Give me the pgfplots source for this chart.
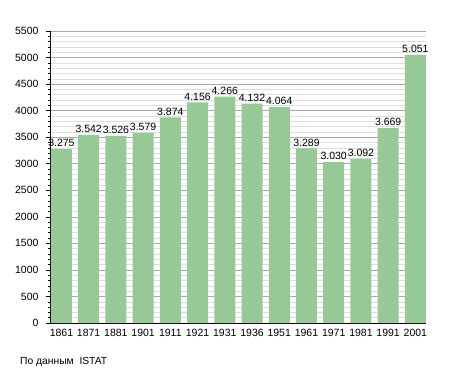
\documentclass[border=0pt]{standalone}
\usepackage{fontspec}
\setmainfont{Liberation Sans}
\usepackage{pgfplots}
\pgfplotsset{compat=1.18}
\definecolor{bargreen}{RGB}{150,201,150}
\definecolor{majgrid}{RGB}{170,170,170}
\definecolor{mingrid}{RGB}{222,222,222}
\begin{document}
\begin{tikzpicture}
\path (0,0) rectangle (455pt,373pt);
\begin{axis}[
  at={(50pt,50pt)}, anchor=south west,
  scale only axis, width=376pt, height=292pt,
  xmin=-0.42, xmax=13.39, ymin=0, ymax=5500,
  axis x line*=bottom, axis y line*=left,
  axis line style={black, line width=0.8pt, -},
  xtick={0,...,13},
  xticklabels={1861,1871,1881,1901,1911,1921,1931,1936,1951,1961,1971,1981,1991,2001},
  x tick style={draw=none},
  ytick={0,500,...,5500},
  minor y tick num=4,
  tick align=outside,
  major tick length=4pt, minor tick length=2pt,
  y tick style={black, line width=0.5pt},
  ymajorgrids, yminorgrids,
  major grid style={majgrid, line width=0.6pt},
  minor grid style={mingrid, line width=0.5pt},
  /pgf/number format/assume math mode=true,
  yticklabel={\pgfmathprintnumber[fixed,1000 sep={}]{\tick}},
  yticklabel style={font=\fontsize{10.5}{12}\selectfont, xshift=-4pt},
  xticklabel style={font=\fontsize{10.5}{12}\selectfont, yshift=1pt},
  ybar, bar width=21pt,
  nodes near coords={\pgfmathprintnumber[fixed,1000 sep={.},assume math mode=true]{\pgfplotspointmeta}},
  nodes near coords style={font=\fontsize{10.5}{12}\selectfont, inner sep=2pt},
]
\addplot[fill=bargreen, draw=none] coordinates {
(0,3275) (1,3542) (2,3526) (3,3579) (4,3874) (5,4156) (6,4266)
(7,4132) (8,4064) (9,3289) (10,3030) (11,3092) (12,3669) (13,5051)};
\end{axis}
\node[anchor=west, font=\fontsize{10.3}{12}\selectfont, inner sep=0pt] at (20pt,11pt) {По данным\ \ ISTAT};
\end{tikzpicture}
\end{document}
